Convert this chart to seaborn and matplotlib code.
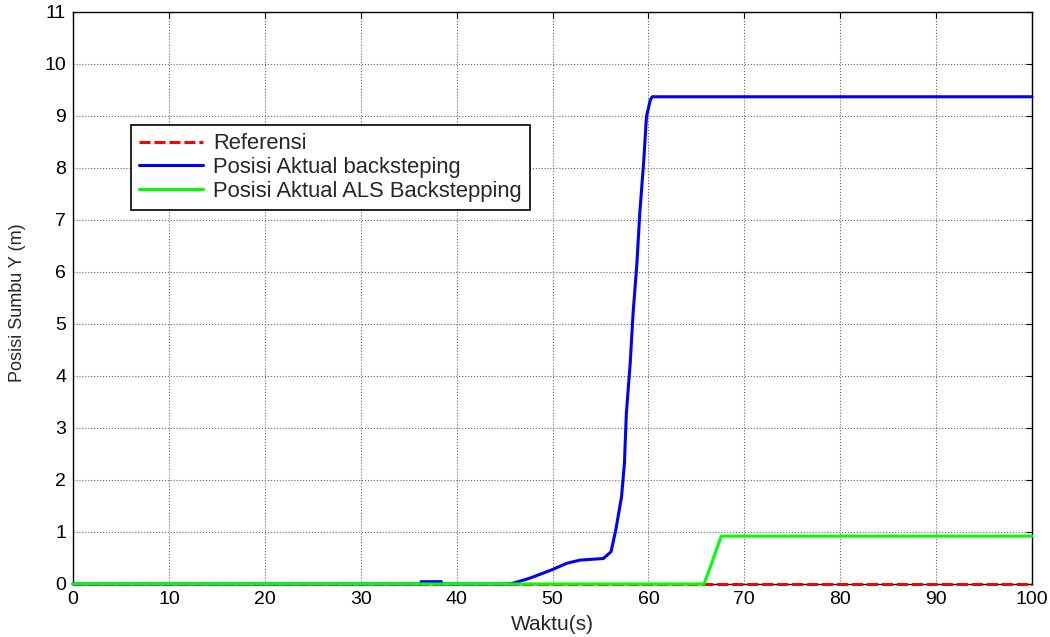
import numpy as np
import pandas as pd
import matplotlib
matplotlib.use("Agg")
import matplotlib.pyplot as plt
import seaborn as sns

# Reference trajectory (zero throughout)
t_ref = [0, 100]
y_ref = [0, 0]

# Backstepping response
t_bs = [0, 36.3, 36.3, 38.4, 38.4, 45.6, 47.6, 49.9, 51.5, 52.9, 55.3, 56.1, 56.6,
        57.2, 57.5, 57.7, 58.1, 58.4, 58.8, 59.1, 59.5, 59.8, 60.2, 60.4, 100]
y_bs = [0, 0, 0.045, 0.045, 0, 0, 0.11, 0.27, 0.40, 0.46, 0.49, 0.62, 1.04,
        1.68, 2.32, 3.28, 4.24, 5.20, 6.16, 7.13, 8.10, 8.99, 9.31, 9.37, 9.37]

# ALS backstepping response
t_als = [0, 65.8, 66.3, 67.6, 100]
y_als = [0, 0, 0.25, 0.92, 0.92]

labels = ["Referensi", "Posisi Aktual backsteping", "Posisi Aktual ALS Backstepping"]
colors = ["#ff0000", "#0000ff", "#00ff00"]

sns.set_theme(style="white")
plt.rcParams["font.family"] = ["Liberation Sans", "DejaVu Sans"]

fig = plt.figure(figsize=(10.5, 6.37), dpi=100)
ax = fig.add_axes([73 / 1050, 53 / 637, 959 / 1050, 572 / 637])

sns.lineplot(x=t_ref, y=y_ref, ax=ax, color=colors[0], lw=2.2,
             label=labels[0], estimator=None, sort=False)
sns.lineplot(x=t_bs, y=y_bs, ax=ax, color=colors[1], lw=2.2,
             label=labels[1], estimator=None, sort=False)
sns.lineplot(x=t_als, y=y_als, ax=ax, color=colors[2], lw=2.2,
             label=labels[2], estimator=None, sort=False)

ref_line, bs_line, als_line = ax.lines[:3]
ref_line.set_dashes([3.6, 1.3])
for z, ln in zip([3.0, 3.1, 3.2], [ref_line, bs_line, als_line]):
    ln.set_zorder(z)
    ln.set_clip_on(False)

ax.set_xlim(0, 100)
ax.set_ylim(0, 11)
ax.set_xticks(np.arange(0, 101, 10))
ax.set_yticks(np.arange(0, 12, 1))
ax.grid(True, color="#666666", linestyle=":", linewidth=0.8)
ax.tick_params(direction="in", top=True, right=True, length=4, width=0.8,
               labelsize=14, colors="black", pad=5)
for s in ax.spines.values():
    s.set_color("black")
    s.set_linewidth(1.0)
    s.set_zorder(2.5)

ax.set_xlabel("Waktu(s)", fontsize=15, va="center")
ax.xaxis.set_label_coords(0.5, (584 - 624) / 572)
ax.set_ylabel("Posisi Sumbu Y (m)", fontsize=13, va="center")
ax.yaxis.set_label_coords((17.5 - 73) / 959, (584 - 303) / 572)

handles = [ref_line, bs_line, als_line]
leg = ax.legend(handles, labels, loc="upper left",
                bbox_to_anchor=((131 - 73) / 959, (584 - 125) / 572),
                borderaxespad=0, fontsize=15.8, frameon=True, fancybox=False,
                edgecolor="black", framealpha=1, handlelength=2.9,
                handletextpad=0.45, borderpad=0.38, labelspacing=0.12)
leg.get_frame().set_linewidth(1.2)

fig.savefig("out.png", dpi=100)
